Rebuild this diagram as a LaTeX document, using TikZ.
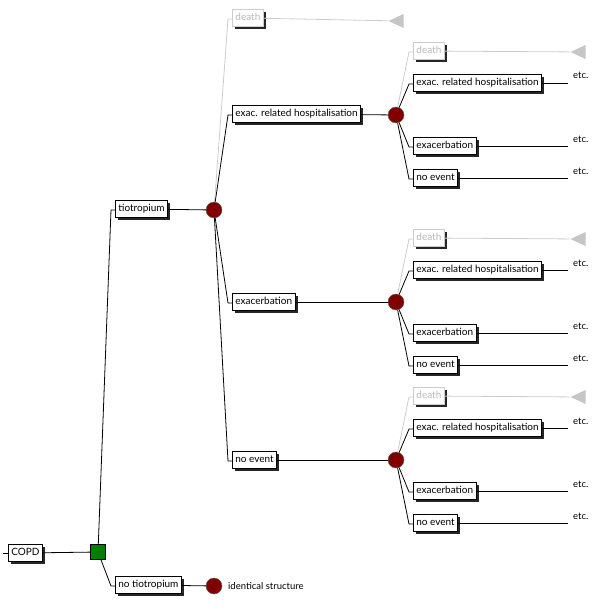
\documentclass[tikz,border=0pt]{standalone}
\usepackage{fontspec}
\setmainfont{Lato}
\usetikzlibrary{shadows,shapes.geometric}

\begin{document}
\begin{tikzpicture}[x=1pt,y=-1pt,
    branch/.style={draw, fill=white, line width=0.8pt, inner xsep=3pt, inner ysep=3pt,
        text height=8pt, text depth=2.5pt, font=\fontsize{10}{11}\selectfont, anchor=west,
        drop shadow={shadow xshift=2.5pt, shadow yshift=-2.5pt, opacity=1, fill=black!85}},
    deadbranch/.style={branch, draw=gray!40, text=gray!55},
    chance/.style={circle, draw=black!60, fill=chancecol, minimum size=16pt, inner sep=0pt},
    decision/.style={rectangle, draw, fill=decisioncol, minimum size=15pt, inner sep=0pt},
    terminal/.style={isosceles triangle, shape border rotate=180, fill=gray!45,
        isosceles triangle stretches, minimum height=15pt, minimum width=14pt,
        inner sep=0pt, anchor=apex},
    plain/.style={anchor=west, inner sep=1pt, font=\fontsize{9.5}{11}\selectfont},
    edge/.style={line width=0.8pt},
    deadedge/.style={edge, draw=gray!40}
]
    \useasboundingbox (0,0) rectangle (600,615);

    % Definindo cores
    \definecolor{chancecol}{RGB}{128, 0, 0}    % circulos (acaso)
    \definecolor{decisioncol}{RGB}{0, 128, 0}  % quadrado (decisao)

    % 1. Raiz e decisao
    \coordinate (stub) at (3,553);
    \node[branch] (copd) at (8,553) {COPD};
    \node[decision] (treat) at (98,552) {};
    \node[branch] (tio) at (115,209) {tiotropium};
    \node[branch] (notio) at (115,585) {no tiotropium};
    \node[chance] (ktio) at (214,210) {};
    \node[chance] (knotio) at (214,586) {};
    \node[plain] (same) at (227,586) {identical structure};

    \draw[edge] (stub) -- (copd);
    \draw[edge] (copd) -- (treat);
    \draw[edge] (treat) -- ([xshift=-4pt,yshift=-1pt]tio.west) -- ([yshift=-1pt]tio.west);
    \draw[edge] (treat) -- ([xshift=-4pt,yshift=-1pt]notio.west) -- ([yshift=-1pt]notio.west);
    \draw[edge] (tio) -- (ktio);
    \draw[edge] (notio) -- (knotio);

    % 2. Primeiro nivel de eventos
    \node[deadbranch] (death) at (232,18) {death};
    \node[terminal] (deathend) at (388,21) {};
    \node[branch] (hosp) at (232,114) {exac. related hospitalisation};
    \node[branch] (exac) at (232,302) {exacerbation};
    \node[branch] (none) at (232,460) {no event};
    \node[chance] (k1) at (396,115) {};
    \node[chance] (k2) at (396,302) {};
    \node[chance] (k3) at (396,460) {};

    \draw[deadedge] (ktio) -- ([xshift=-4pt,yshift=-1pt]death.west) -- ([yshift=-1pt]death.west);
    \draw[deadedge] (death) -- (deathend);
    \foreach \b/\k in {hosp/k1, exac/k2, none/k3} {
        \draw[edge] (ktio) -- ([xshift=-4pt,yshift=-1pt]\b.west) -- ([yshift=-1pt]\b.west);
        \draw[edge] (\b) -- (\k);
    }

    % 3. Segundo nivel (mesma estrutura em cada circulo)
    \foreach \k/\y in {k1/115, k2/302, k3/460} {
        \node[deadbranch] (\k death) at (413,\y-64) {death};
        \node[terminal] (\k end) at (570,\y-63) {};
        \draw[deadedge] (\k) -- ([xshift=-4pt,yshift=-1pt]\k death.west) -- ([yshift=-1pt]\k death.west);
        \draw[deadedge] (\k death) -- (\k end);
        \foreach \b/\t/\dy in {hosp/exac. related hospitalisation/-32, exac/exacerbation/31, none/no event/63} {
            \node[branch] (\k\b) at (413,\y+\dy) {\t};
            \coordinate (\k\b tail) at (568,\y+\dy);
            \node[plain, anchor=base west] (\k\b etc) at (572,\y+\dy-4) {etc.};
            \draw[edge] (\k) -- ([xshift=-4pt,yshift=-1pt]\k\b.west) -- ([yshift=-1pt]\k\b.west);
            \draw[edge] (\k\b) -- (\k\b tail);
        }
    }

\end{tikzpicture}
\end{document}
